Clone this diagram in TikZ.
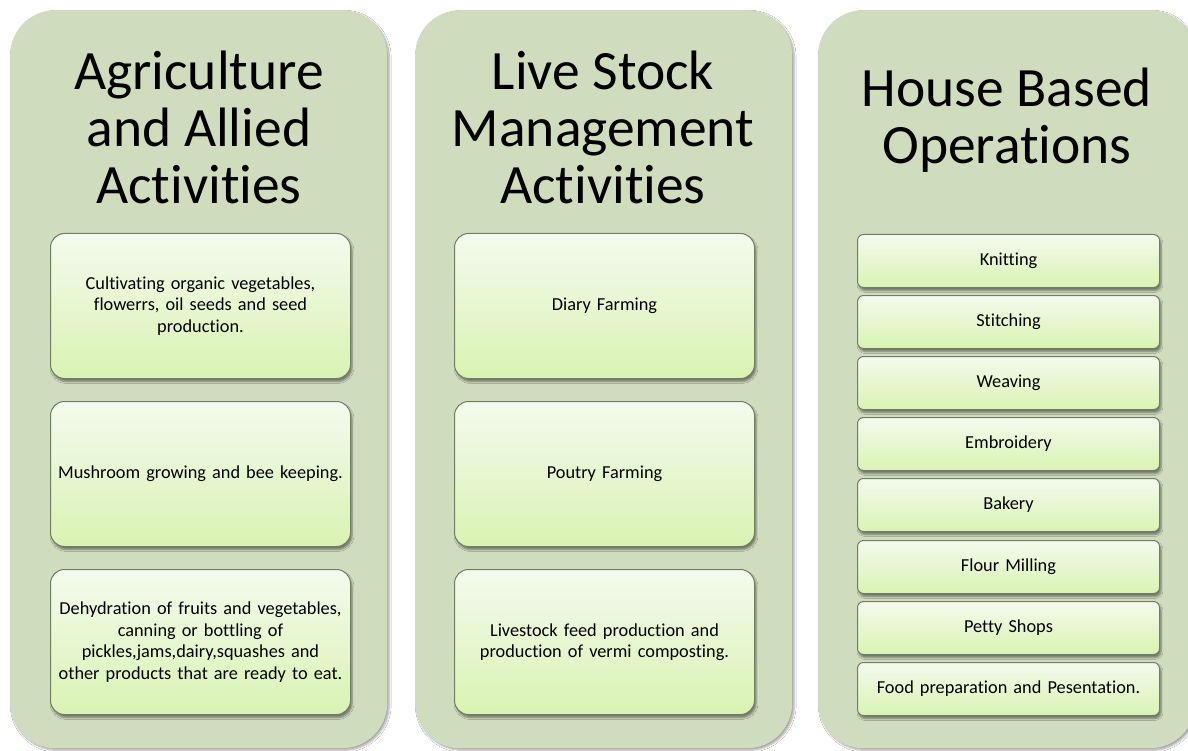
\documentclass[tikz,border=0pt]{standalone}
\usepackage{fontspec}
\setmainfont{Carlito}[Ligatures={NoCommon,NoRare,NoContextual}]
\usetikzlibrary{shadows.blur}
\definecolor{panelc}{RGB}{208,220,190}
\definecolor{boxtop}{RGB}{244,250,238}
\definecolor{boxbot}{RGB}{217,243,178}
\definecolor{boxline}{RGB}{112,126,96}
\tikzset{
  panel/.style={draw=none, fill=panelc, rounded corners=45pt, minimum width=377pt, minimum height=738pt, inner sep=0pt, anchor=north west,
    blur shadow={shadow xshift=2pt, shadow yshift=-2pt, shadow blur steps=6, shadow blur extra rounding=2pt, shadow opacity=35}},
  titletxt/.style={font=\fontsize{55.5}{57}\selectfont, align=center, text=black, inner sep=0pt},
  bigbox/.style={draw=boxline, line width=1pt, top color=boxtop, bottom color=boxbot, rounded corners=14pt,
    minimum width=300pt, minimum height=145pt, text width=292pt, align=center, inner sep=0pt,
    font=\fontsize{18.3}{21.5}\selectfont, anchor=north west,
    blur shadow={shadow xshift=1.5pt, shadow yshift=-3pt, shadow blur steps=5, shadow opacity=45}},
  smallbox/.style={draw=boxline, line width=1pt, top color=boxtop, bottom color=boxbot, rounded corners=6pt,
    minimum width=302pt, minimum height=53pt, text width=298pt, align=center, inner sep=0pt,
    font=\fontsize{18.3}{21.5}\selectfont, anchor=north west,
    blur shadow={shadow xshift=1.5pt, shadow yshift=-3pt, shadow blur steps=5, shadow opacity=45}}
}
\begin{document}
\begin{tikzpicture}[x=1pt,y=-1pt]
\useasboundingbox (0,0) rectangle (1188,751);
\clip (0,0) rectangle (1188,751);
\fill[white] (0,0) rectangle (1188,751);
% panels
\node[panel] (p1) at (10,10) {};
\node[panel] (p2) at (415,10) {};
\node[panel] (p3) at (818,10) {};
% titles
\node[titletxt] (t1) at (199,127) {Agriculture\\and Allied\\Activities};
\node[titletxt] (t2) at (603,127) {Live Stock\\Management\\Activities};
\node[titletxt] (t3) at (1007,120) {House Based\\Operations};
% panel 1 boxes
\node[bigbox] (a1) at (50,233) {Cultivating organic vegetables,\\flowerrs, oil seeds and seed\\production.};
\node[bigbox] (a2) at (50,401) {Mushroom growing and bee keeping.};
\node[bigbox] (a3) at (50,569) {Dehydration of fruits and vegetables,\\canning or bottling of\\pickles,jams,dairy,squashes and\\other products that are ready to eat.};
% panel 2 boxes
\node[bigbox] (b1) at (454,233) {Diary Farming};
\node[bigbox] (b2) at (454,401) {Poutry Farming};
\node[bigbox] (b3) at (454,569) {Livestock feed production and\\production of vermi composting.};
% panel 3 boxes
\node[smallbox] (c1) at (857,234) {Knitting};
\node[smallbox] (c2) at (857,295) {Stitching};
\node[smallbox] (c3) at (857,356) {Weaving};
\node[smallbox] (c4) at (857,417) {Embroidery};
\node[smallbox] (c5) at (857,478) {Bakery};
\node[smallbox] (c6) at (857,540) {Flour Milling};
\node[smallbox] (c7) at (857,601) {Petty Shops};
\node[smallbox] (c8) at (857,662) {Food preparation and Pesentation.};
\end{tikzpicture}
\end{document}
